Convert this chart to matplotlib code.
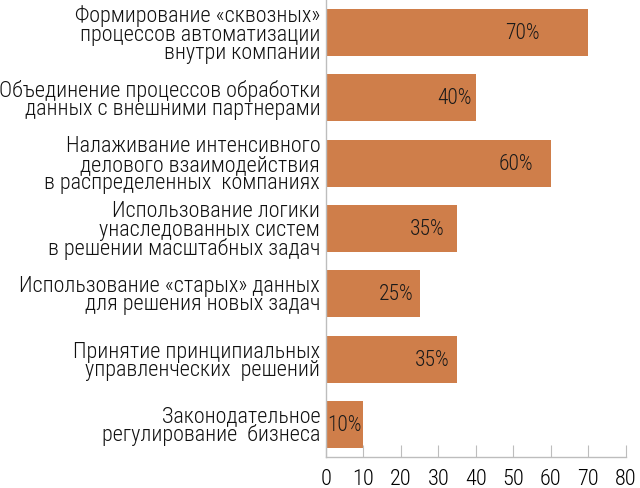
import matplotlib
matplotlib.use('Agg')
import matplotlib.pyplot as plt

plt.rcParams['font.family'] = ['Roboto Condensed', 'DejaVu Sans']
plt.rcParams['font.weight'] = 'light'

categories = [
    'Формирование «сквозных»\nпроцессов автоматизации\nвнутри компании',
    'Объединение процессов обработки\nданных с внешними партнерами',
    'Налаживание интенсивного\nделового взаимодействия\nв распределенных  компаниях',
    'Использование логики\nунаследованных систем\nв решении масштабных задач',
    'Использование «старых» данных\nдля решения новых задач',
    'Принятие принципиальных\nуправленческих  решений',
    'Законодательное\nрегулирование  бизнеса',
]
values = [70, 40, 60, 35, 25, 35, 10]
value_labels = ['70%', '40%', '60%', '35%', '25%', '35%', '10%']
# right edge of each value label, in axis units
label_x = [57.0, 38.8, 55.3, 31.8, 23.5, 32.9, 9.6]
xticks = [0, 10, 20, 30, 40, 50, 60, 70, 80]

bar_color = '#CF7E4A'
grey = '#BDBDBD'

fig = plt.figure(figsize=(6.4, 4.89), dpi=100)
ax = fig.add_axes([0.509, 0.0634, 0.469, 0.935])

pos = list(range(len(values)))
ax.barh(pos, values, height=0.72, color=bar_color, edgecolor='none')
for p, lx, lab in zip(pos, label_x, value_labels):
    ax.text(lx, p, lab, ha='right', va='center', fontsize=15.5, color='#1a1a1a')

ax.set_xlim(0, 80)
ax.set_ylim(len(values) - 0.5, -0.5)
ax.set_xticks(xticks)
ax.set_xticklabels([str(t) for t in xticks], fontsize=16)
ax.set_yticks(pos)
ax.set_yticklabels(categories, fontsize=15.9, linespacing=0.83, ha='right', color='#111111')
ax.tick_params(axis='y', length=0, pad=4)
ax.tick_params(axis='x', direction='in', length=9, color=grey, pad=8)

for s in ['top', 'right']:
    ax.spines[s].set_visible(False)
for s in ['left', 'bottom']:
    ax.spines[s].set_color(grey)
    ax.spines[s].set_linewidth(1.0)

fig.savefig('out.png', dpi=100)
